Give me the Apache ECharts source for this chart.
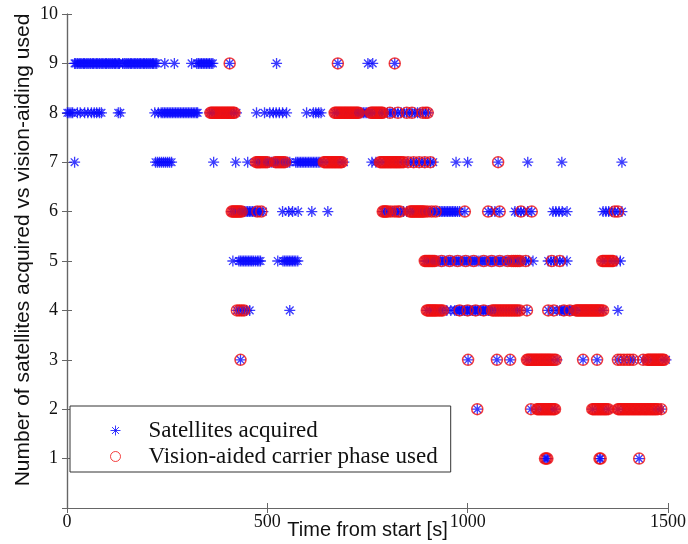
<!DOCTYPE html>
<html>
<head>
<meta charset="utf-8">
<script src="https://cdn.jsdelivr.net/npm/echarts@6.0.0/dist/echarts.min.js"></script>
<style>
  html, body { margin: 0; padding: 0; background: #fff; }
  #chart { width: 688px; height: 544px; }
</style>
</head>
<body>
<div id="chart"></div>
<script>
// time [s] of each sample, one array per satellite count
var acquired9 = [19, 22, 26, 30, 33, 37, 41, 44, 48, 52, 55, 59, 63, 66, 70, 74, 77, 81, 85, 88, 92, 96, 99, 103, 107, 110, 114, 118, 121, 125, 129, 131,
  139, 143, 147, 150, 154, 158, 161, 165, 169, 172, 176, 180, 183, 187, 191, 194, 198, 202, 205, 209, 213, 216, 220, 224,
  244, 268, 311, 324, 328, 332, 336, 340, 344, 348, 352, 356, 360, 364, 406, 523, 676, 751, 763, 818]
var acquired8 = [1, 5, 10, 14, 26, 33, 44, 52, 61, 68, 74, 81, 86, 128, 133,
  219, 228, 235, 239, 243, 247, 251, 255, 259, 263, 267, 271, 275, 279, 283, 287, 291, 295, 299, 303, 307, 311, 315, 319, 323, 326,
  356, 362, 368, 374, 380, 386, 392, 398, 404, 410, 416, 423, 473, 493, 506, 515, 522, 530, 538, 548, 598, 615, 621, 628, 634,
  668, 674, 680, 686, 692, 698, 704, 710, 716, 720, 724, 728, 732, 736, 740, 744, 748, 752, 756, 762, 768, 774, 780, 786, 792,
  800, 806, 812, 818, 826, 834, 841, 848, 855, 861, 868, 875, 881, 888, 895, 902]
var acquired7 = [19, 221, 226, 231, 236, 241, 246, 251, 256, 261, 366, 421, 451,
  471, 476, 481, 486, 491, 496, 501, 506, 511, 516, 521, 526, 531, 536, 541, 546, 551, 556,
  571, 575, 579, 583, 587, 591, 595, 599, 603, 607, 611, 615, 619, 623, 627, 631, 641, 651, 661, 671, 681, 691,
  761, 771, 781, 791, 801, 811, 821, 831, 841, 851, 858, 865, 872, 879, 886, 893, 900, 907, 914,
  971, 1000, 1076, 1150, 1235, 1385]
var acquired6 = [411, 416, 421, 426, 431, 436, 439, 443, 447, 451, 455, 459, 463, 467, 471, 475, 479, 483, 489,
  538, 553, 563, 577, 611, 651,
  788, 793, 798, 803, 808, 813, 818, 823, 828, 833, 840, 848, 856, 863, 868, 873, 878, 883, 888, 893, 898, 903, 908, 913, 918, 923,
  930, 934, 938, 942, 946, 950, 954, 958, 962, 966, 970, 975, 980, 993, 1051, 1060, 1068, 1080,
  1118, 1125, 1133, 1140, 1150, 1160, 1213, 1220, 1228, 1236, 1248, 1338, 1345, 1352, 1360, 1367, 1375, 1385]
var acquired5 = [414, 429, 433, 437, 441, 445, 449, 453, 457, 461, 465, 470, 475, 479, 483,
  526, 539, 543, 547, 551, 555, 559, 563, 567, 571, 576,
  893, 898, 903, 908, 913, 918, 923, 928, 933, 938, 943, 948, 953, 958, 963, 968, 973, 978, 983, 988, 993, 998,
  1003, 1008, 1013, 1018, 1023, 1028, 1033, 1038, 1043, 1048, 1053, 1058, 1063, 1068, 1073, 1078, 1083, 1088,
  1093, 1098, 1103, 1108, 1113, 1118, 1123, 1128, 1133, 1138, 1145, 1152, 1163,
  1201, 1208, 1215, 1222, 1230, 1238, 1248, 1336, 1345, 1354, 1363, 1372, 1381]
var acquired4 = [424, 430, 436, 442, 448, 456, 556,
  898, 905, 912, 919, 926, 933, 938, 948, 958, 968, 972, 976, 980, 984, 988, 992, 996, 1000, 1004, 1008, 1012, 1016,
  1020, 1024, 1028, 1032, 1036, 1040, 1044, 1048, 1052, 1056, 1061, 1068, 1075, 1082, 1089, 1096, 1103, 1110, 1117, 1124, 1130,
  1148, 1201, 1212, 1223, 1230, 1234, 1238, 1242, 1246, 1250, 1254, 1258, 1262, 1266, 1270, 1280, 1290, 1300, 1310, 1320, 1330, 1338, 1375]
var acquired3 = [433, 1001, 1073, 1106, 1148, 1160, 1172, 1185, 1198, 1210, 1223, 1288, 1323,
  1375, 1390, 1405, 1413, 1438, 1448, 1460, 1472, 1485, 1495]
var acquired2 = [1024, 1158, 1173, 1185, 1198, 1210, 1218, 1311, 1325, 1338, 1351,
  1375, 1390, 1405, 1420, 1435, 1450, 1465, 1475, 1483]
var acquired1 = [1193, 1196, 1199, 1329, 1332, 1428]

var vision9 = [406, 676, 818]
var vision8 = [358, 361, 364, 367, 370, 373, 376, 379, 382, 385, 388, 391, 394, 397, 400, 403, 406, 409, 412, 415, 418,
  668, 671, 674, 677, 680, 683, 686, 689, 692, 695, 698, 701, 704, 707, 710, 713, 716, 719, 722, 725, 728,
  758, 761, 764, 767, 770, 773, 776, 779, 782, 785, 788, 806, 826, 848, 861, 888, 895, 900]
var vision7 = [472, 475, 478, 481, 484, 488, 492, 496, 500, 520, 524, 528, 532, 536, 540, 544,
  641, 644, 647, 650, 653, 656, 659, 662, 665, 668, 671, 674, 677, 680, 683, 686,
  781, 784, 787, 790, 793, 796, 799, 802, 805, 808, 811, 814, 817, 820, 823, 826, 829, 832, 836, 840, 851,
  865, 879, 893, 907, 1076]
var vision6 = [411, 414, 417, 420, 423, 426, 429, 432, 436, 475, 485,
  788, 791, 794, 797, 800, 808, 818, 826, 831,
  856, 859, 862, 865, 868, 871, 874, 877, 880, 883, 886, 889, 893, 900, 910, 920,
  993, 1051, 1080, 1133, 1160, 1367, 1375]
var vision5 = [893, 896, 899, 902, 905, 908, 911, 914, 918, 935, 955, 975, 995, 1015, 1040, 1060, 1080, 1100,
  1110, 1115, 1120, 1125, 1130, 1145, 1210, 1230,
  1336, 1339, 1342, 1345, 1348, 1351, 1354, 1357, 1360, 1363]
var vision4 = [424, 430, 436, 442, 898, 901, 904, 907, 910, 913, 916, 919, 922, 926, 930, 934, 938,
  980, 1000, 1020, 1040, 1061, 1065, 1069, 1073, 1077, 1081, 1085, 1089, 1093, 1097, 1101, 1105, 1109, 1113, 1117, 1121, 1125, 1130,
  1148, 1201, 1215, 1240, 1255, 1270, 1273, 1276, 1279, 1282, 1285, 1288, 1291, 1294, 1297, 1300, 1303, 1306, 1309, 1312,
  1315, 1318, 1321, 1324, 1327, 1330, 1334, 1338]
var vision3 = [433, 1001, 1073, 1106, 1148, 1151, 1154, 1157, 1160, 1163, 1166, 1169, 1172, 1175, 1178, 1181, 1184, 1187,
  1190, 1193, 1196, 1199, 1202, 1205, 1208, 1212, 1216, 1220, 1288, 1323, 1375, 1382, 1390, 1398, 1405, 1413, 1438,
  1448, 1451, 1454, 1457, 1460, 1463, 1466, 1469, 1472, 1475, 1478, 1481, 1484, 1487, 1490]
var vision2 = [1024, 1158, 1173, 1176, 1179, 1182, 1185, 1188, 1191, 1194, 1197, 1200, 1203, 1206, 1209, 1212, 1215, 1218,
  1311, 1314, 1317, 1320, 1323, 1326, 1329, 1332, 1335, 1338, 1341, 1344, 1347, 1351,
  1375, 1378, 1381, 1384, 1387, 1390, 1393, 1396, 1399, 1402, 1405, 1408, 1411, 1414, 1417, 1420, 1423, 1426, 1429,
  1432, 1435, 1438, 1441, 1444, 1447, 1450, 1453, 1456, 1459, 1462, 1465, 1468, 1471, 1475, 1483]
var vision1 = [1193, 1196, 1199, 1329, 1332, 1428]

var xTicks = [0, 500, 1000, 1500]
var yTicks = [1, 2, 3, 4, 5, 6, 7, 8, 9, 10]

var acquiredRows = [acquired1, acquired2, acquired3, acquired4, acquired5, acquired6, acquired7, acquired8, acquired9]
var visionRows = [vision1, vision2, vision3, vision4, vision5, vision6, vision7, vision8, vision9]

function toPoints(rows) {
  var pts = []
  rows.forEach(function(times, i) {
    times.forEach(function(t) { pts.push([t, i + 1]) })
  })
  return pts
}

var starPath = 'path://M5 0L5 10M0 5L10 5M1.5 1.5L8.5 8.5M8.5 1.5L1.5 8.5'
var blue = '#0a0aff'
var red = '#f01010'
var axisColor = '#666'
var serif = '"Liberation Serif", "Times New Roman", serif'
var sans = '"Liberation Sans", Arial, sans-serif'

var chart = echarts.init(document.getElementById('chart'))

var tickStyle = { inside: true, length: 5, lineStyle: { color: axisColor, width: 1 } }
var lineStyle = { lineStyle: { color: axisColor, width: 1.2 } }

chart.setOption({
  animation: false,
  backgroundColor: '#fff',
  grid: { left: 67, right: 20, top: 14, bottom: 36, outerBoundsMode: 'none' },
  legend: {
    orient: 'vertical',
    left: 70,
    top: 406,
    padding: [13, 13, 4, 40],
    itemWidth: 10,
    itemHeight: 10,
    itemGap: 3,
    borderColor: '#333',
    borderWidth: 1,
    borderRadius: 0,
    backgroundColor: '#fff',
    textStyle: { fontFamily: serif, fontSize: 23, color: '#111', padding: [0, 0, 0, 23] },
    data: [
      { name: 'Satellites acquired', icon: starPath,
        itemStyle: { color: 'rgba(0,0,0,0)', borderColor: blue, borderWidth: 1 } },
      { name: 'Vision-aided carrier phase used', icon: 'circle',
        itemStyle: { color: 'rgba(0,0,0,0)', borderColor: red, borderWidth: 1 } }
    ]
  },
  xAxis: [
    {
      type: 'value', min: 0, max: 1500, interval: 500,
      name: 'Time from start [s]', nameLocation: 'middle', nameGap: 12, nameMoveOverlap: false,
      nameTextStyle: { fontFamily: sans, fontSize: 20, color: '#111' },
      axisLine: lineStyle, axisTick: tickStyle, splitLine: { show: false },
      axisLabel: { fontFamily: serif, fontSize: 18, color: '#111', margin: 5,
        formatter: function(v) { return xTicks.indexOf(v) >= 0 ? String(v) : '' } }
    },
    {
      type: 'value', min: 0, max: 1500, interval: 500, position: 'top',
      axisLine: lineStyle, axisTick: tickStyle, axisLabel: { show: false }, splitLine: { show: false }
    }
  ],
  yAxis: [
    {
      type: 'value', min: 0, max: 10, interval: 1,
      name: 'Number of satellites acquired vs vision-aiding used', nameLocation: 'middle', nameGap: 33, nameMoveOverlap: false,
      nameTextStyle: { fontFamily: sans, fontSize: 21, color: '#111', padding: [0, 0, 0, 22] },
      axisLine: lineStyle, axisTick: tickStyle, splitLine: { show: false },
      axisLabel: { fontFamily: serif, fontSize: 18, color: '#111', margin: 9,
        formatter: function(v) { return yTicks.indexOf(v) >= 0 ? String(v) : '' } }
    },
    {
      type: 'value', min: 0, max: 10, interval: 1, position: 'right',
      axisLine: lineStyle, axisTick: tickStyle, axisLabel: { show: false }, splitLine: { show: false }
    }
  ],
  series: [
    {
      name: 'Satellites acquired',
      type: 'scatter',
      symbol: starPath,
      symbolSize: 11,
      itemStyle: { color: 'rgba(0,0,0,0)', borderColor: blue, borderWidth: 1.3 },
      data: toPoints(acquiredRows),
      z: 2
    },
    {
      name: 'Vision-aided carrier phase used',
      type: 'scatter',
      symbol: 'circle',
      symbolSize: 11,
      itemStyle: { color: 'rgba(0,0,0,0)', borderColor: red, borderWidth: 1.5 },
      data: toPoints(visionRows),
      z: 3
    }
  ]
})
</script>
</body>
</html>
